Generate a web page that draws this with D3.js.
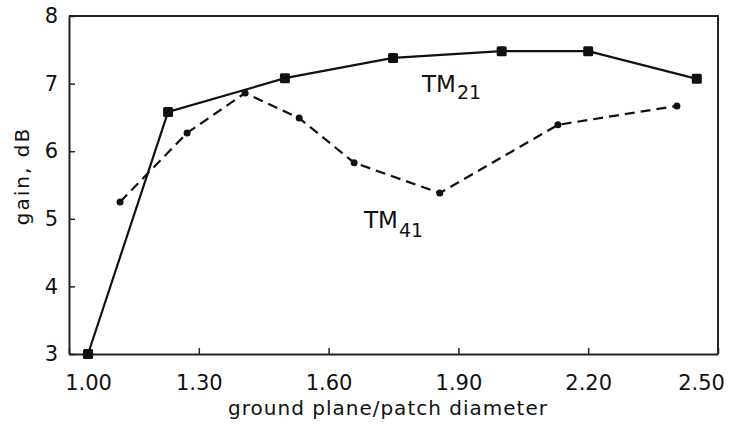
<!DOCTYPE html>
<html>
<head>
<meta charset="utf-8">
<script src="https://cdn.jsdelivr.net/npm/d3@7"></script>
<style>
	body { margin: 0; background: #fff; }
	text { font-family: "DejaVu Sans", sans-serif; fill: #111; }
</style>
</head>
<body>
<div id="graph-container"></div>
<script>
// data
const tm21X = [1.044, 1.229, 1.499, 1.749, 2.0, 2.2, 2.451];
const tm21Y = [3.0, 6.58, 7.08, 7.38, 7.48, 7.48, 7.07];
const tm41X = [1.118, 1.273, 1.407, 1.532, 1.659, 1.857, 2.13, 2.405];
const tm41Y = [5.25, 6.27, 6.86, 6.49, 5.83, 5.38, 6.39, 6.67];
const xTicks = [1.0, 1.3, 1.6, 1.9, 2.2, 2.5];
const yTicks = [3, 4, 5, 6, 7, 8];

document.addEventListener("DOMContentLoaded", function () {
	builder();
});

function builder() {
	const w = 731;
	const h = 434;
	const left = 69, right = 718, top = 16, bottom = 354;

	const svg = d3
		.select("#graph-container")
		.append("svg")
		.attr("width", w)
		.attr("height", h);

	const x = d3.scaleLinear().domain([1.0, 2.5]).range([left, right]);
	const y = d3.scaleLinear().domain([3, 8]).range([bottom, top]);

	// frame (top and right)
	svg.append("path")
		.attr("d", `M${left},${top}H${right}V${bottom}`)
		.attr("fill", "none")
		.attr("stroke", "#222")
		.attr("stroke-width", 2);

	// x axis, ticks pointing inward
	const xAxis = svg.append("g")
		.attr("transform", `translate(0,${bottom})`)
		.call(d3.axisBottom(x)
			.tickValues(xTicks)
			.tickFormat(d3.format(".2f"))
			.tickSizeInner(-6)
			.tickSizeOuter(0)
			.tickPadding(21));
	xAxis.select(".domain").attr("stroke", "#222").attr("stroke-width", 2);
	xAxis.selectAll(".tick line").attr("stroke", "#222").attr("stroke-width", 1.5);
	xAxis.selectAll(".tick text")
		.style("font-size", "21px")
		.attr("fill", "#111")
		// end labels squeezed inward like the original
		.attr("dx", (d, i) => i === 0 ? 19 : (i === xTicks.length - 1 ? -17 : 0));

	// y axis
	const yAxis = svg.append("g")
		.attr("transform", `translate(${left},0)`)
		.call(d3.axisLeft(y)
			.tickValues(yTicks)
			.tickFormat(d3.format("d"))
			.tickSizeInner(-6)
			.tickSizeOuter(0)
			.tickPadding(11));
	yAxis.select(".domain").attr("stroke", "#222").attr("stroke-width", 2);
	yAxis.selectAll(".tick line").attr("stroke", "#222").attr("stroke-width", 1.5);
	yAxis.selectAll(".tick text").style("font-size", "21px").attr("fill", "#111");

	// axis titles
	svg.append("text")
		.attr("x", 388)
		.attr("y", 415)
		.attr("text-anchor", "middle")
		.style("font-size", "20px")
		.style("letter-spacing", "1px")
		.text("ground plane/patch diameter");

	svg.append("text")
		.attr("transform", "translate(29,176) rotate(-90)")
		.attr("text-anchor", "middle")
		.style("font-size", "20px")
		.style("letter-spacing", "2px")
		.text("gain, dB");

	const line = d3.line().x(d => x(d[0])).y(d => y(d[1]));
	const tm21 = tm21X.map((v, i) => [v, tm21Y[i]]);
	const tm41 = tm41X.map((v, i) => [v, tm41Y[i]]);

	// TM41 dashed
	svg.append("path")
		.datum(tm41)
		.attr("d", line)
		.attr("fill", "none")
		.attr("stroke", "#111")
		.attr("stroke-width", 2.2)
		.attr("stroke-dasharray", "10,6");
	svg.selectAll(".dot41")
		.data(tm41)
		.enter()
		.append("circle")
		.attr("class", "dot41")
		.attr("cx", d => x(d[0]))
		.attr("cy", d => y(d[1]))
		.attr("r", 3.5)
		.attr("fill", "#111");

	// TM21 solid
	svg.append("path")
		.datum(tm21)
		.attr("d", line)
		.attr("fill", "none")
		.attr("stroke", "#111")
		.attr("stroke-width", 2.2);
	svg.selectAll(".sq21")
		.data(tm21)
		.enter()
		.append("rect")
		.attr("class", "sq21")
		.attr("x", d => x(d[0]) - 5)
		.attr("y", d => y(d[1]) - 5)
		.attr("width", 10)
		.attr("height", 10)
		.attr("rx", 1.5)
		.attr("fill", "#111");

	// series labels
	const lab21 = svg.append("text").attr("x", 422).attr("y", 92).style("font-size", "23px");
	lab21.append("tspan").text("TM");
	lab21.append("tspan").attr("dx", 1).attr("dy", 7).style("font-size", "19px").text("21");

	const lab41 = svg.append("text").attr("x", 364).attr("y", 228).style("font-size", "23px");
	lab41.append("tspan").text("TM");
	lab41.append("tspan").attr("dx", 1).attr("dy", 9).style("font-size", "19px").text("41");
}
</script>
</body>
</html>
